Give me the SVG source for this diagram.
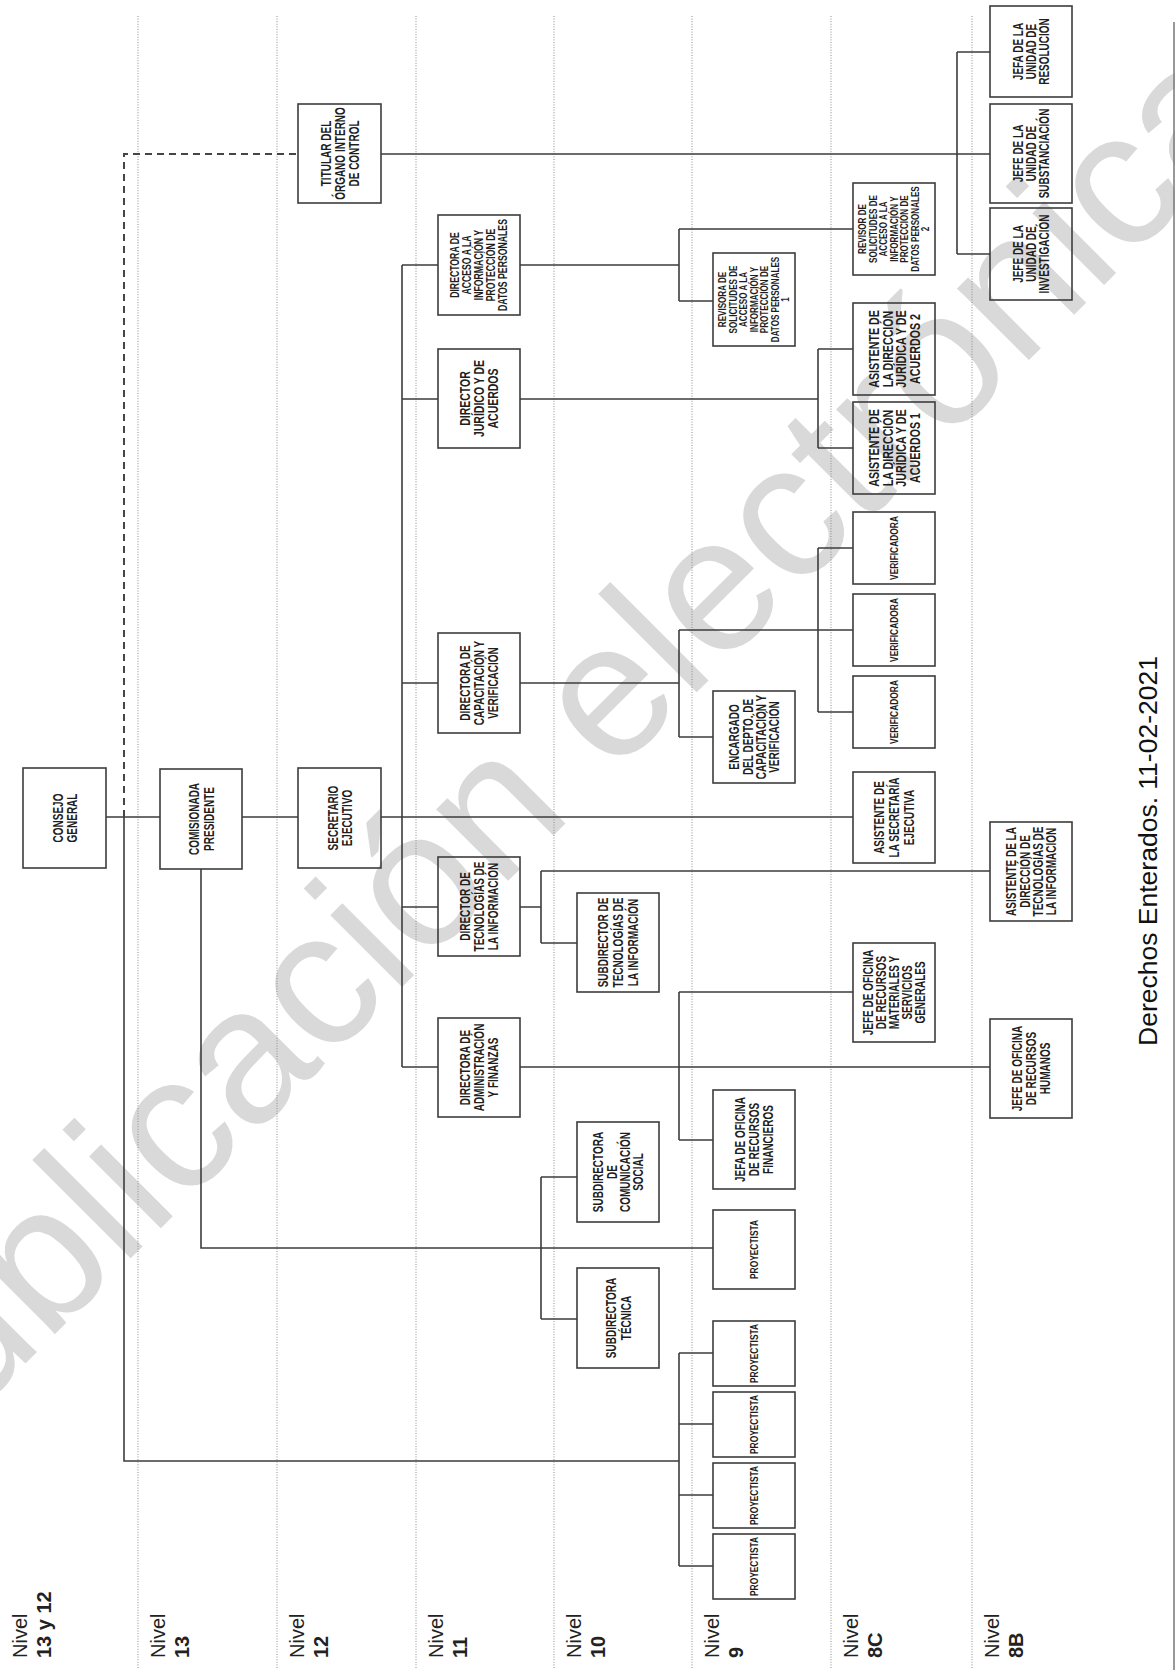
<svg xmlns="http://www.w3.org/2000/svg" width="1175" height="1670" viewBox="0 0 1175 1670">
<style>
.bg{fill:#ffffff}
.wm{font-family:"Liberation Sans",Arial,sans-serif;font-size:192px;fill:#d9d9d9}
.sep{stroke:#8c8c8c;stroke-width:1;stroke-dasharray:1 1.6;fill:none}
.border{stroke:#777;stroke-width:1.5;fill:none}
.box{fill:none;stroke:#3c3c3c;stroke-width:1.6}
.ln{fill:none;stroke:#3c3c3c;stroke-width:1.6}
.dash{fill:none;stroke:#454545;stroke-width:2;stroke-dasharray:7 5}
.t{font-family:"Liberation Sans",Arial,sans-serif;font-weight:bold;font-size:14.5px;text-anchor:middle;fill:#1e1e1e}
.tb{font-size:15px}
.t12{font-size:12px}
.t10{font-size:10.5px}
.lv{font-family:"Liberation Sans",Arial,sans-serif;font-size:20px;fill:#222}
.lvb{font-weight:bold}
.foot{font-family:"Liberation Sans",Arial,sans-serif;font-size:26.5px;text-anchor:middle;fill:#111}
</style>
<rect class="bg" x="0" y="0" width="1175" height="1670"/>
<text class="wm" transform="translate(-105,1494) rotate(-45)">publicación electrónica</text>
<g id="separators">
<path class="sep" d="M138,16V1668M277,16V1668M416,16V1668M554,16V1668M692,16V1668M831,16V1668M972,16V1668"/>
<path class="border" d="M1174,22V1670"/>
</g>
<g id="levels">
<text class="lv" transform="translate(26.5,1658) rotate(-90)">Nivel</text>
<text class="lv lvb" transform="translate(50.5,1658) rotate(-90)">13 y 12</text>
<text class="lv" transform="translate(164.5,1658) rotate(-90)">Nivel</text>
<text class="lv lvb" transform="translate(188.5,1658) rotate(-90)">13</text>
<text class="lv" transform="translate(303.5,1658) rotate(-90)">Nivel</text>
<text class="lv lvb" transform="translate(327.5,1658) rotate(-90)">12</text>
<text class="lv" transform="translate(442.5,1658) rotate(-90)">Nivel</text>
<text class="lv lvb" transform="translate(466.5,1658) rotate(-90)">11</text>
<text class="lv" transform="translate(580.5,1658) rotate(-90)">Nivel</text>
<text class="lv lvb" transform="translate(604.5,1658) rotate(-90)">10</text>
<text class="lv" transform="translate(718.5,1658) rotate(-90)">Nivel</text>
<text class="lv lvb" transform="translate(742.5,1658) rotate(-90)">9</text>
<text class="lv" transform="translate(857.5,1658) rotate(-90)">Nivel</text>
<text class="lv lvb" transform="translate(881.5,1658) rotate(-90)">8C</text>
<text class="lv" transform="translate(998.5,1658) rotate(-90)">Nivel</text>
<text class="lv lvb" transform="translate(1022.5,1658) rotate(-90)">8B</text>
</g>
<g id="connectors">
<path class="ln" d="M106,817H160M242,817H298M381,817H853"/>
<path class="ln" d="M201,869V1248H713"/>
<path class="ln" d="M124,817V1461H679"/>
<path class="dash" d="M124,817V154H298"/>
<path class="ln" d="M679,1353V1566M679,1353H713M679,1424H713M679,1495H713M679,1566H713"/>
<path class="ln" d="M541,1177V1319M541,1177H577M541,1319H577"/>
<path class="ln" d="M402,265V1067M402,265H438M402,399H438M402,683H438M402,907H438M402,1067H438"/>
<path class="ln" d="M520,265H679M679,229V301M679,229H853M679,301H713"/>
<path class="ln" d="M520,399H818M818,349V448M818,349H853M818,448H853"/>
<path class="ln" d="M520,683H679M679,630V737M679,630H853M679,737H713M818,548V712M818,548H853M818,712H853"/>
<path class="ln" d="M520,907H541M541,871V943M541,871H990M541,943H577"/>
<path class="ln" d="M520,1067H990M679,992V1140M679,992H853M679,1140H713"/>
<path class="ln" d="M381,154H990M957,52V254M957,52H990M957,254H990"/>
</g>
<g id="consejo"><rect class="box" x="23" y="768" width="83" height="100"/>
<text class="t" transform="translate(64.5,818) rotate(-90) scale(0.69,1)"><tspan x="0" y="-2">CONSEJO</tspan><tspan x="0" y="12.5">GENERAL</tspan></text></g>
<g id="comisionada"><rect class="box" x="160" y="769" width="82" height="100"/>
<text class="t" transform="translate(201,819) rotate(-90) scale(0.69,1)"><tspan x="0" y="-2.5">COMISIONADA</tspan><tspan x="0" y="13">PRESIDENTE</tspan></text></g>
<g id="secretario"><rect class="box" x="298" y="768" width="83" height="100"/>
<text class="t" transform="translate(339.5,818) rotate(-90) scale(0.69,1)"><tspan x="0" y="-2">SECRETARIO</tspan><tspan x="0" y="12.5">EJECUTIVO</tspan></text></g>
<g id="titular"><rect class="box" x="298" y="104" width="83" height="99"/>
<text class="t" transform="translate(339.5,153.5) rotate(-90) scale(0.69,1)"><tspan x="0" y="-8.8">TITULAR DEL</tspan><tspan x="0" y="5.2">ÓRGANO INTERNO</tspan><tspan x="0" y="19.2">DE CONTROL</tspan></text></g>
<g id="dir-acceso"><rect class="box" x="438" y="215" width="82" height="100"/>
<text class="t t12" transform="translate(479,265) rotate(-90) scale(0.725,1)"><tspan x="0" y="-19.7">DIRECTORA DE</tspan><tspan x="0" y="-7.7">ACCESO A LA</tspan><tspan x="0" y="4.3">INFORMACIÓN Y</tspan><tspan x="0" y="16.3">PROTECCIÓN DE</tspan><tspan x="0" y="28.3">DATOS PERSONALES</tspan></text></g>
<g id="dir-juridico"><rect class="box" x="438" y="349" width="82" height="99"/>
<text class="t tb" transform="translate(479,398.5) rotate(-90) scale(0.7,1)"><tspan x="0" y="-8.6">DIRECTOR</tspan><tspan x="0" y="5.4">JURÍDICO Y DE</tspan><tspan x="0" y="19.4">ACUERDOS</tspan></text></g>
<g id="dir-capacitacion"><rect class="box" x="438" y="633" width="82" height="100"/>
<text class="t" transform="translate(479,683) rotate(-90) scale(0.69,1)"><tspan x="0" y="-8.8">DIRECTORA DE</tspan><tspan x="0" y="5.2">CAPACITACIÓN Y</tspan><tspan x="0" y="19.2">VERIFICACIÓN</tspan></text></g>
<g id="dir-tecnologias"><rect class="box" x="438" y="857" width="82" height="99"/>
<text class="t" transform="translate(479,906.5) rotate(-90) scale(0.69,1)"><tspan x="0" y="-8.8">DIRECTOR DE</tspan><tspan x="0" y="5.2">TECNOLOGÍAS DE</tspan><tspan x="0" y="19.2">LA INFORMACIÓN</tspan></text></g>
<g id="dir-administracion"><rect class="box" x="438" y="1018" width="82" height="99"/>
<text class="t" transform="translate(479,1067.5) rotate(-90) scale(0.69,1)"><tspan x="0" y="-8.8">DIRECTORA DE</tspan><tspan x="0" y="5.2">ADMINISTRACIÓN</tspan><tspan x="0" y="19.2">Y FINANZAS</tspan></text></g>
<g id="subdir-ti"><rect class="box" x="577" y="893" width="82" height="99"/>
<text class="t" transform="translate(618,942.5) rotate(-90) scale(0.69,1)"><tspan x="0" y="-9.8">SUBDIRECTOR DE</tspan><tspan x="0" y="5.2">TECNOLOGÍAS DE</tspan><tspan x="0" y="20.2">LA INFORMACIÓN</tspan></text></g>
<g id="subdir-comunicacion"><rect class="box" x="577" y="1122" width="82" height="100"/>
<text class="t" transform="translate(618,1172) rotate(-90) scale(0.69,1)"><tspan x="0" y="-15">SUBDIRECTORA</tspan><tspan x="0" y="-1.5">DE</tspan><tspan x="0" y="12">COMUNICACIÓN</tspan><tspan x="0" y="25.5">SOCIAL</tspan></text></g>
<g id="subdir-tecnica"><rect class="box" x="577" y="1268" width="82" height="100"/>
<text class="t" transform="translate(618,1318) rotate(-90) scale(0.69,1)"><tspan x="0" y="-2">SUBDIRECTORA</tspan><tspan x="0" y="12.5">TÉCNICA</tspan></text></g>
<g id="proyectista-p"><rect class="box" x="713" y="1210" width="82" height="79"/>
<text class="t t10" transform="translate(754,1249.5) rotate(-90) scale(0.8,1)" y="3.8">PROYECTISTA</text></g>
<g id="proyectista-1"><rect class="box" x="713" y="1321" width="82" height="65"/>
<text class="t t10" transform="translate(754,1353.5) rotate(-90) scale(0.8,1)" y="3.8">PROYECTISTA</text></g>
<g id="proyectista-2"><rect class="box" x="713" y="1392" width="82" height="65"/>
<text class="t t10" transform="translate(754,1424.5) rotate(-90) scale(0.8,1)" y="3.8">PROYECTISTA</text></g>
<g id="proyectista-3"><rect class="box" x="713" y="1463" width="82" height="65"/>
<text class="t t10" transform="translate(754,1495.5) rotate(-90) scale(0.8,1)" y="3.8">PROYECTISTA</text></g>
<g id="proyectista-4"><rect class="box" x="713" y="1534" width="82" height="65"/>
<text class="t t10" transform="translate(754,1566.5) rotate(-90) scale(0.8,1)" y="3.8">PROYECTISTA</text></g>
<g id="jefa-financieros"><rect class="box" x="713" y="1090" width="82" height="99"/>
<text class="t" transform="translate(754,1139.5) rotate(-90) scale(0.69,1)"><tspan x="0" y="-8.8">JEFA DE OFICINA</tspan><tspan x="0" y="5.2">DE RECURSOS</tspan><tspan x="0" y="19.2">FINANCIEROS</tspan></text></g>
<g id="encargado"><rect class="box" x="713" y="691" width="82" height="92"/>
<text class="t" transform="translate(754,737) rotate(-90) scale(0.69,1)"><tspan x="0" y="-15">ENCARGADO</tspan><tspan x="0" y="-1.5">DEL DEPTO. DE</tspan><tspan x="0" y="12">CAPACITACIÓN Y</tspan><tspan x="0" y="25.5">VERIFICACIÓN</tspan></text></g>
<g id="revisora-1"><rect class="box" x="713" y="253" width="82" height="93"/>
<text class="t t10" transform="translate(754,299.5) rotate(-90) scale(0.77,1)"><tspan x="0" y="-27.7">REVISORA DE</tspan><tspan x="0" y="-17.2">SOLICITUDES DE</tspan><tspan x="0" y="-6.7">ACCESO A LA</tspan><tspan x="0" y="3.8">INFORMACIÓN Y</tspan><tspan x="0" y="14.3">PROTECCIÓN DE</tspan><tspan x="0" y="24.8">DATOS PERSONALES</tspan><tspan x="0" y="35.3">1</tspan></text></g>
<g id="revisor-2"><rect class="box" x="853" y="183" width="82" height="92"/>
<text class="t t10" transform="translate(894,229) rotate(-90) scale(0.77,1)"><tspan x="0" y="-27.7">REVISOR DE</tspan><tspan x="0" y="-17.2">SOLICITUDES DE</tspan><tspan x="0" y="-6.7">ACCESO A LA</tspan><tspan x="0" y="3.8">INFORMACIÓN Y</tspan><tspan x="0" y="14.3">PROTECCIÓN DE</tspan><tspan x="0" y="24.8">DATOS PERSONALES</tspan><tspan x="0" y="35.3">2</tspan></text></g>
<g id="asistente-juridica-2"><rect class="box" x="853" y="303" width="82" height="92"/>
<text class="t tb" transform="translate(894,349) rotate(-90) scale(0.71,1)"><tspan x="0" y="-14.8">ASISTENTE DE</tspan><tspan x="0" y="-1.3">LA DIRECCIÓN</tspan><tspan x="0" y="12.2">JURÍDICA Y DE</tspan><tspan x="0" y="25.7">ACUERDOS 2</tspan></text></g>
<g id="asistente-juridica-1"><rect class="box" x="853" y="402" width="82" height="92"/>
<text class="t tb" transform="translate(894,448) rotate(-90) scale(0.71,1)"><tspan x="0" y="-14.8">ASISTENTE DE</tspan><tspan x="0" y="-1.3">LA DIRECCIÓN</tspan><tspan x="0" y="12.2">JURÍDICA Y DE</tspan><tspan x="0" y="25.7">ACUERDOS 1</tspan></text></g>
<g id="verificadora-1"><rect class="box" x="853" y="512" width="82" height="72"/>
<text class="t t10" transform="translate(894,548) rotate(-90) scale(0.8,1)" y="3.8">VERIFICADORA</text></g>
<g id="verificadora-2"><rect class="box" x="853" y="594" width="82" height="72"/>
<text class="t t10" transform="translate(894,630) rotate(-90) scale(0.8,1)" y="3.8">VERIFICADORA</text></g>
<g id="verificadora-3"><rect class="box" x="853" y="676" width="82" height="72"/>
<text class="t t10" transform="translate(894,712) rotate(-90) scale(0.8,1)" y="3.8">VERIFICADORA</text></g>
<g id="asistente-secretaria"><rect class="box" x="853" y="772" width="82" height="91"/>
<text class="t" transform="translate(894,817.5) rotate(-90) scale(0.69,1)"><tspan x="0" y="-9.8">ASISTENTE DE</tspan><tspan x="0" y="5.2">LA SECRETARÍA</tspan><tspan x="0" y="20.2">EJECUTIVA</tspan></text></g>
<g id="jefe-materiales"><rect class="box" x="853" y="943" width="82" height="99"/>
<text class="t" transform="translate(894,992.5) rotate(-90) scale(0.69,1)"><tspan x="0" y="-20.8">JEFE DE OFICINA</tspan><tspan x="0" y="-7.8">DE RECURSOS</tspan><tspan x="0" y="5.2">MATERIALES Y</tspan><tspan x="0" y="18.2">SERVICIOS</tspan><tspan x="0" y="31.2">GENERALES</tspan></text></g>
<g id="asistente-ti"><rect class="box" x="990" y="822" width="82" height="99"/>
<text class="t" transform="translate(1031,871.5) rotate(-90) scale(0.69,1)"><tspan x="0" y="-15">ASISTENTE DE LA</tspan><tspan x="0" y="-1.5">DIRECCIÓN DE</tspan><tspan x="0" y="12">TECNOLOGÍAS DE</tspan><tspan x="0" y="25.5">LA INFORMACIÓN</tspan></text></g>
<g id="jefe-rh"><rect class="box" x="990" y="1019" width="82" height="99"/>
<text class="t" transform="translate(1031,1068.5) rotate(-90) scale(0.69,1)"><tspan x="0" y="-8.8">JEFE DE OFICINA</tspan><tspan x="0" y="5.2">DE RECURSOS</tspan><tspan x="0" y="19.2">HUMANOS</tspan></text></g>
<g id="jefa-resolucion"><rect class="box" x="990" y="6" width="82" height="91"/>
<text class="t" transform="translate(1031,51.5) rotate(-90) scale(0.69,1)"><tspan x="0" y="-7.8">JEFA DE LA</tspan><tspan x="0" y="5.2">UNIDAD DE</tspan><tspan x="0" y="18.2">RESOLUCIÓN</tspan></text></g>
<g id="jefe-substanciacion"><rect class="box" x="990" y="104" width="82" height="99"/>
<text class="t" transform="translate(1031,153.5) rotate(-90) scale(0.69,1)"><tspan x="0" y="-7.8">JEFE DE LA</tspan><tspan x="0" y="5.2">UNIDAD DE</tspan><tspan x="0" y="18.2">SUBSTANCIACIÓN</tspan></text></g>
<g id="jefe-investigacion"><rect class="box" x="990" y="208" width="82" height="92"/>
<text class="t" transform="translate(1031,254) rotate(-90) scale(0.69,1)"><tspan x="0" y="-7.8">JEFE DE LA</tspan><tspan x="0" y="5.2">UNIDAD DE</tspan><tspan x="0" y="18.2">INVESTIGACIÓN</tspan></text></g>
<text class="foot" transform="translate(1157,851) rotate(-90)">Derechos Enterados. 11-02-2021</text>
</svg>
